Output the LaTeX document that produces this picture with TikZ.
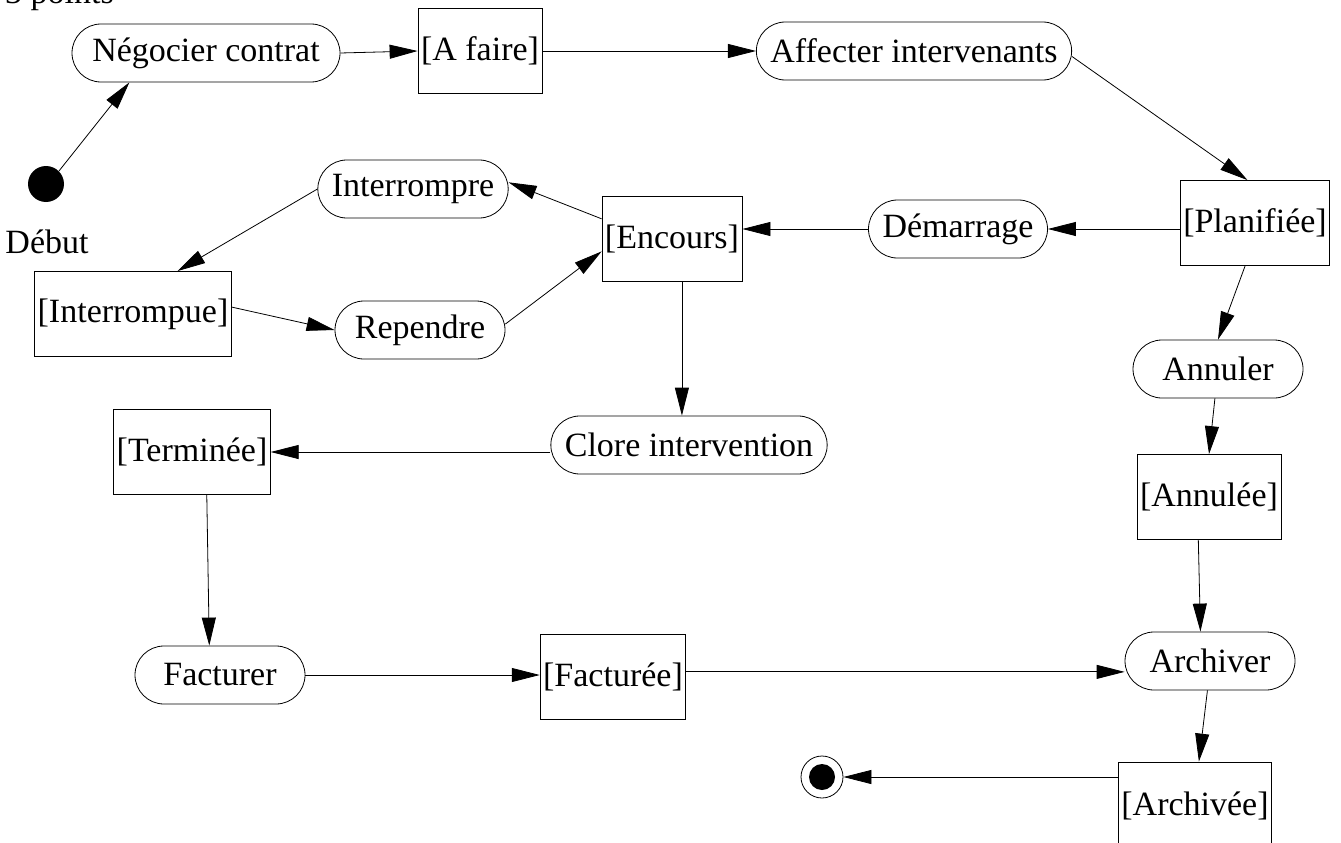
\documentclass[tikz,border=0pt]{standalone}
\usepackage{fontspec}
\setmainfont{Liberation Serif}
\usetikzlibrary{arrows.meta,calc,positioning}

\begin{document}
\begin{tikzpicture}[x=1pt,y=-1pt,
  every node/.style={font=\fontsize{34pt}{40pt}\selectfont},
  activite/.style={draw, line width=0.8pt, rounded corners=29pt, minimum height=58pt,
    minimum width=170pt, inner xsep=14pt, inner ysep=2pt},
  etat/.style={draw, line width=0.8pt, minimum height=85pt, inner xsep=3pt},
  fleche/.style={line width=0.8pt, -{Triangle[length=28pt,width=14pt]}}]
  \useasboundingbox (0,0) rectangle (1341,843);
  % titre coupe en haut
  \node[anchor=base west, inner sep=0pt] (titre) at (5,4) {3 points};
  % activites et etats
  \node[activite, minimum width=268pt] (nego) at (206,53) {Négocier contrat};
  \node[circle, fill, inner sep=0pt, minimum size=36pt] (debut) at (46,184) {};
  \node (lbldebut) at (47,242) {Début};
  \node[etat] (afaire) at (480,51) {[A faire]};
  \node[activite] (affect) at (914,51) {Affecter intervenants};
  \node[etat] (planif) at (1255,223) {[Planifiée]};
  \node[activite] (demarr) at (958,229) {Démarrage};
  \node[etat] (encours) at (672,239) {[Encours]};
  \node[activite] (interr) at (413,189) {Interrompre};
  \node[etat] (interrue) at (133,314) {[Interrompue]};
  \node[activite] (rependre) at (420,330) {Rependre};
  \node[activite] (clore) at (689,445) {Clore intervention};
  \node[etat] (termine) at (192,452) {[Terminée]};
  \node[activite] (annuler) at (1218,369) {Annuler};
  \node[etat] (annulee) at (1209,497) {[Annulée]};
  \node[activite] (facturer) at (220,675) {Facturer};
  \node[etat] (facturee) at (613,677) {[Facturée]};
  \node[activite] (archiver) at (1210,661) {Archiver};
  \node[etat, minimum height=88pt] (archivee) at (1195,806) {[Archivée]};
  \node[circle, draw, line width=0.8pt, minimum size=42pt, inner sep=0pt] (fin) at (822,777) {};
  \fill (fin.center) circle (13pt);
  % transitions
  \draw[fleche] (debut.45) -- (nego.201);
  \draw[fleche] (nego.east) -- (afaire.west);
  \draw[fleche] (afaire) -- (affect);
  \draw[fleche] (affect.-2) -- (planif.100);
  \draw[fleche] (planif.west |- demarr.east) -- (demarr.east);
  \draw[fleche] (demarr.west) -- (demarr.west -| encours.east);
  \draw[fleche] (encours.164) -- (interr.4);
  \draw[fleche] (interr.west) -- (interrue.44);
  \draw[fleche] (interrue.4) -- (rependre.west);
  \draw[fleche] (rependre.4) -- (encours.190);
  \draw[fleche] (encours.-77) -- (encours.-77 |- clore.north);
  \draw[fleche] (clore.west |- termine.east) -- (termine.east);
  \draw[fleche] (termine.-71) -- (facturer.110);
  \draw[fleche] (facturer.east) -- (facturer.east -| facturee.west);
  \draw[fleche] (facturee.4) -- (archiver.west |- facturee.4);
  \draw[fleche] (planif.-103) -- (annuler.north);
  \draw[fleche] (annuler.-96) -- (annulee.north);
  \draw[fleche] (annulee.-104) -- (archiver.108);
  \draw[fleche] (archiver.-95) -- (archivee.85);
  \draw[fleche] (archivee.west |- fin) -- (fin);
\end{tikzpicture}
\end{document}
